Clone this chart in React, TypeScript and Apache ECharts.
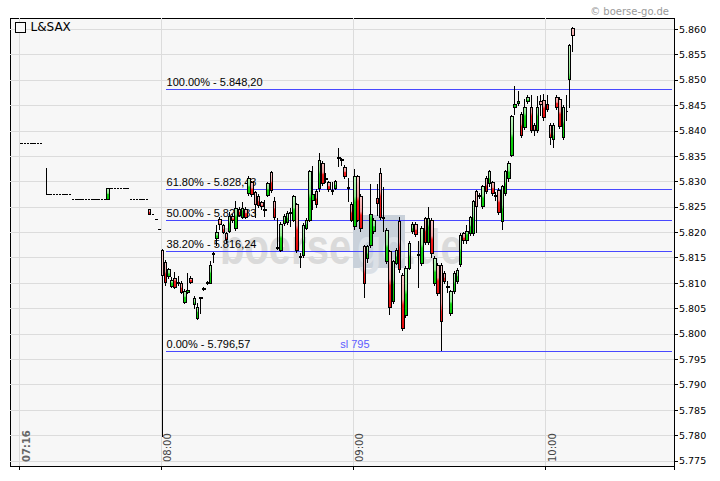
import React, { useEffect, useRef } from 'react';
import * as echarts from 'echarts';

// ---------- data ----------
const firstMinute = 433; // 07:13, left edge of the plot
const lastMinute = 639; // 10:39, right edge of the plot
const xTickLabels = ['07:16', '08:00', '09:00', '10:00'];
const boldTickLabel = '07:16';
const yTicks = [5.775, 5.78, 5.785, 5.79, 5.795, 5.8, 5.805, 5.81, 5.815, 5.82, 5.825, 5.83, 5.835, 5.84, 5.845, 5.85, 5.855, 5.86];
const yMin = 5.774;
const yMax = 5.8622;
const seriesName = 'L&SAX';
const copyright = '\u00a9 boerse-go.de';

// pre-market quotes: [time, open, close, low, high]
const preMarket: [string, number, number, number, number][] = [
  ['07:16', 5.8375, 5.8375, 5.8375, 5.8375],
  ['07:17', 5.8375, 5.8375, 5.8375, 5.8375],
  ['07:18', 5.8375, 5.8375, 5.8375, 5.8375],
  ['07:19', 5.8375, 5.8375, 5.8375, 5.8375],
  ['07:20', 5.8375, 5.8375, 5.8375, 5.8375],
  ['07:21', 5.8375, 5.8375, 5.8375, 5.8375],
  ['07:22', 5.8375, 5.8375, 5.8375, 5.8375],
  ['07:24', 5.8275, 5.8275, 5.8275, 5.8326],
  ['07:25', 5.8275, 5.8275, 5.8275, 5.8275],
  ['07:26', 5.8275, 5.8275, 5.8275, 5.8275],
  ['07:27', 5.8275, 5.8275, 5.8275, 5.8275],
  ['07:28', 5.8275, 5.8275, 5.8275, 5.8275],
  ['07:29', 5.8275, 5.8275, 5.8275, 5.8275],
  ['07:30', 5.8275, 5.8275, 5.8275, 5.8275],
  ['07:31', 5.8275, 5.8275, 5.8275, 5.8275],
  ['07:32', 5.8265, 5.8265, 5.8265, 5.8265],
  ['07:33', 5.8265, 5.8265, 5.8265, 5.8265],
  ['07:34', 5.8265, 5.8265, 5.8265, 5.8265],
  ['07:35', 5.8265, 5.8265, 5.8265, 5.8265],
  ['07:36', 5.8265, 5.8265, 5.8265, 5.8265],
  ['07:37', 5.8265, 5.8265, 5.8265, 5.8265],
  ['07:38', 5.8265, 5.8265, 5.8265, 5.8265],
  ['07:39', 5.8265, 5.8265, 5.8265, 5.8265],
  ['07:40', 5.8265, 5.8265, 5.8265, 5.8265],
  ['07:41', 5.8265, 5.8265, 5.8265, 5.8265],
  ['07:42', 5.8265, 5.8265, 5.8265, 5.8265],
  ['07:43', 5.8265, 5.8287, 5.8265, 5.8287],
  ['07:44', 5.8287, 5.8287, 5.8287, 5.8287],
  ['07:45', 5.8287, 5.8287, 5.8287, 5.8287],
  ['07:46', 5.8287, 5.8287, 5.8287, 5.8287],
  ['07:47', 5.8287, 5.8287, 5.8287, 5.8287],
  ['07:48', 5.8287, 5.8287, 5.8287, 5.8287],
  ['07:49', 5.8287, 5.8287, 5.8287, 5.8287],
  ['07:50', 5.8265, 5.8265, 5.8265, 5.8265],
  ['07:51', 5.8265, 5.8265, 5.8265, 5.8265],
  ['07:52', 5.8265, 5.8265, 5.8265, 5.8265],
  ['07:53', 5.8265, 5.8265, 5.8265, 5.8265],
  ['07:54', 5.8265, 5.8265, 5.8265, 5.8265],
  ['07:55', 5.8265, 5.8265, 5.8265, 5.8265],
  ['07:56', 5.8245, 5.8236, 5.8236, 5.8245],
  ['07:57', 5.8236, 5.8236, 5.8236, 5.8236],
  ['07:58', 5.8226, 5.8226, 5.8226, 5.8226],
  ['07:59', 5.8206, 5.8206, 5.8206, 5.8206],
];

// regular session, one candle per minute from 08:00: [open, close, low, high]
const sessionStart = '08:00';
const session: [number, number, number, number][] = [
  [5.8165, 5.8116, 5.7797, 5.8168],
  [5.8140, 5.8102, 5.8095, 5.8145],
  [5.8114, 5.8126, 5.8108, 5.8130],
  [5.8094, 5.8105, 5.8090, 5.8112],
  [5.8110, 5.8092, 5.8088, 5.8122],
  [5.8101, 5.8099, 5.8095, 5.8115],
  [5.8100, 5.8082, 5.8078, 5.8104],
  [5.8062, 5.8084, 5.8058, 5.8088],
  [5.8082, 5.8085, 5.8078, 5.8120],
  [5.8110, 5.8102, 5.8098, 5.8114],
  [5.8058, 5.8070, 5.8050, 5.8074],
  [5.8030, 5.8053, 5.8027, 5.8060],
  [5.8069, 5.8071, 5.8040, 5.8073],
  [5.8087, 5.8089, 5.8085, 5.8092],
  [5.8100, 5.8102, 5.8097, 5.8104],
  [5.8100, 5.8134, 5.8098, 5.8144],
  [5.8157, 5.8159, 5.8140, 5.8161],
  [5.8187, 5.8200, 5.8173, 5.8215],
  [5.8225, 5.8215, 5.8205, 5.8230],
  [5.8213, 5.8200, 5.8196, 5.8216],
  [5.8197, 5.8185, 5.8180, 5.8200],
  [5.8201, 5.8231, 5.8198, 5.8240],
  [5.8232, 5.8224, 5.8218, 5.8236],
  [5.8208, 5.8247, 5.8203, 5.8262],
  [5.8245, 5.8234, 5.8230, 5.8250],
  [5.8230, 5.8247, 5.8226, 5.8260],
  [5.8245, 5.8230, 5.8226, 5.8250],
  [5.8277, 5.8307, 5.8272, 5.8310],
  [5.8298, 5.8275, 5.8270, 5.8302],
  [5.8278, 5.8255, 5.8228, 5.8282],
  [5.8270, 5.8253, 5.8248, 5.8275],
  [5.8258, 5.8250, 5.8244, 5.8262],
  [5.8245, 5.8243, 5.8230, 5.8263],
  [5.8273, 5.8297, 5.8270, 5.8300],
  [5.8317, 5.8283, 5.8278, 5.8320],
  [5.8260, 5.8229, 5.8224, 5.8270],
  [5.8171, 5.8169, 5.8165, 5.8228],
  [5.8165, 5.8216, 5.8162, 5.8220],
  [5.8217, 5.8232, 5.8212, 5.8236],
  [5.8220, 5.8237, 5.8215, 5.8242],
  [5.8239, 5.8237, 5.8210, 5.8248],
  [5.8224, 5.8270, 5.8220, 5.8273],
  [5.8254, 5.8165, 5.8160, 5.8258],
  [5.8153, 5.8151, 5.8130, 5.8159],
  [5.8155, 5.8214, 5.8150, 5.8218],
  [5.8208, 5.8224, 5.8204, 5.8228],
  [5.8224, 5.8319, 5.8220, 5.8323],
  [5.8262, 5.8275, 5.8244, 5.8330],
  [5.8280, 5.8254, 5.8248, 5.8285],
  [5.8287, 5.8342, 5.8280, 5.8356],
  [5.8336, 5.8297, 5.8292, 5.8340],
  [5.8306, 5.8304, 5.8297, 5.8317],
  [5.8298, 5.8285, 5.8280, 5.8302],
  [5.8283, 5.8281, 5.8273, 5.8300],
  [5.8287, 5.8300, 5.8283, 5.8304],
  [5.8347, 5.8345, 5.8328, 5.8366],
  [5.8344, 5.8342, 5.8330, 5.8346],
  [5.8327, 5.8309, 5.8305, 5.8333],
  [5.8288, 5.8286, 5.8260, 5.8307],
  [5.8255, 5.8224, 5.8220, 5.8260],
  [5.8211, 5.8309, 5.8205, 5.8325],
  [5.8309, 5.8224, 5.8220, 5.8312],
  [5.8270, 5.8207, 5.8200, 5.8275],
  [5.8172, 5.8100, 5.8070, 5.8176],
  [5.8149, 5.8172, 5.8140, 5.8176],
  [5.8175, 5.8235, 5.8170, 5.8296],
  [5.8201, 5.8224, 5.8196, 5.8228],
  [5.8267, 5.8257, 5.8233, 5.8296],
  [5.8316, 5.8230, 5.8224, 5.8326],
  [5.8229, 5.8227, 5.8200, 5.8290],
  [5.8142, 5.8204, 5.8138, 5.8208],
  [5.8162, 5.8053, 5.8037, 5.8166],
  [5.8063, 5.8142, 5.8058, 5.8146],
  [5.8139, 5.8165, 5.8135, 5.8170],
  [5.8221, 5.8126, 5.8120, 5.8231],
  [5.8116, 5.8011, 5.8005, 5.8120],
  [5.8037, 5.8129, 5.8032, 5.8133],
  [5.8129, 5.8179, 5.8125, 5.8183],
  [5.8201, 5.8216, 5.8196, 5.8220],
  [5.8216, 5.8196, 5.8190, 5.8220],
  [5.8156, 5.8154, 5.8090, 5.8183],
  [5.8139, 5.8208, 5.8134, 5.8212],
  [5.8227, 5.8181, 5.8176, 5.8231],
  [5.8181, 5.8227, 5.8176, 5.8250],
  [5.8224, 5.8158, 5.8150, 5.8228],
  [5.8100, 5.8149, 5.8095, 5.8153],
  [5.8135, 5.8080, 5.8075, 5.8140],
  [5.8135, 5.8024, 5.7966, 5.8139],
  [5.8119, 5.8103, 5.8098, 5.8123],
  [5.8094, 5.8092, 5.8080, 5.8105],
  [5.8041, 5.8083, 5.8036, 5.8087],
  [5.8083, 5.8119, 5.8079, 5.8123],
  [5.8103, 5.8125, 5.8099, 5.8129],
  [5.8137, 5.8194, 5.8132, 5.8198],
  [5.8197, 5.8183, 5.8178, 5.8201],
  [5.8183, 5.8202, 5.8178, 5.8215],
  [5.8197, 5.8229, 5.8192, 5.8233],
  [5.8198, 5.8260, 5.8193, 5.8264],
  [5.8280, 5.8250, 5.8198, 5.8284],
  [5.8273, 5.8271, 5.8265, 5.8278],
  [5.8250, 5.8290, 5.8245, 5.8294],
  [5.8306, 5.8280, 5.8275, 5.8310],
  [5.8296, 5.8319, 5.8290, 5.8323],
  [5.8298, 5.8277, 5.8272, 5.8302],
  [5.8272, 5.8270, 5.8262, 5.8280],
  [5.8283, 5.8240, 5.8235, 5.8287],
  [5.8221, 5.8290, 5.8204, 5.8294],
  [5.8277, 5.8319, 5.8272, 5.8323],
  [5.8306, 5.8336, 5.8300, 5.8340],
  [5.8352, 5.8428, 5.8348, 5.8432],
  [5.8446, 5.8452, 5.8431, 5.8488],
  [5.8453, 5.8457, 5.8448, 5.8478],
  [5.8432, 5.8390, 5.8385, 5.8436],
  [5.8407, 5.8446, 5.8402, 5.8462],
  [5.8457, 5.8466, 5.8452, 5.8470],
  [5.8446, 5.8401, 5.8395, 5.8470],
  [5.8411, 5.8401, 5.8390, 5.8415],
  [5.8401, 5.8446, 5.8395, 5.8468],
  [5.8457, 5.8451, 5.8430, 5.8470],
  [5.8460, 5.8426, 5.8420, 5.8472],
  [5.8452, 5.8442, 5.8437, 5.8470],
  [5.8411, 5.8387, 5.8372, 5.8415],
  [5.8382, 5.8411, 5.8366, 5.8415],
  [5.8466, 5.8446, 5.8440, 5.8470],
  [5.8462, 5.8409, 5.8404, 5.8466],
  [5.8387, 5.8446, 5.8382, 5.8450],
  [5.8437, 5.8437, 5.8420, 5.8470],
  [5.8501, 5.8567, 5.8445, 5.8570],
  [5.8602, 5.8587, 5.8556, 5.8605],
];

// Fibonacci retracement
const fibLevels = ['100.00%', '61.80%', '50.00%', '38.20%', '0.00%'];
const fibValues = [5.8482, 5.82843, 5.82233, 5.81624, 5.79657];
const fibTexts = ['5.848,20', '5.828,43', '5.822,33', '5.816,24', '5.796,57'];
const fibStart = '08:01';
const stopText = 'sl 795';
const stopTime = '09:00';

// ---------- helpers ----------
const toLabel = (m: number) =>
  `${String(Math.floor(m / 60)).padStart(2, '0')}:${String(m % 60).padStart(2, '0')}`;
const toMinute = (s: string) => {
  const [h, m] = s.split(':').map(Number);
  return h * 60 + m;
};

const FIB_BLUE = '#4848ff';

export default function App() {
  const ref = useRef<HTMLDivElement>(null);

  useEffect(() => {
    if (!ref.current) return;
    const host = ref.current;
    const chart = echarts.init(host, undefined, { renderer: 'svg' });

    const categories: string[] = [];
    for (let m = firstMinute; m <= lastMinute; m++) categories.push(toLabel(m));
    const lastCategory = categories[categories.length - 1];

    const rows: (string | number)[][] = preMarket.map((r) => [...r]);
    const startMin = toMinute(sessionStart);
    session.forEach((c, i) => rows.push([toLabel(startMin + i), ...c]));

    const showTick = (_i: number, v: string) => xTickLabels.includes(v);

    const upFill = new echarts.graphic.LinearGradient(0, 0, 0, 1, [
      { offset: 0, color: '#ccf8cc' },
      { offset: 0.45, color: '#8eea8e' },
      { offset: 0.55, color: '#14d414' },
      { offset: 1, color: '#00c400' },
    ]);
    const downFill = new echarts.graphic.LinearGradient(0, 0, 0, 1, [
      { offset: 0, color: '#fad0d0' },
      { offset: 0.45, color: '#f29c9c' },
      { offset: 0.55, color: '#f41c1c' },
      { offset: 1, color: '#e00808' },
    ]);

    const wmFont = 'bold 50px "Liberation Sans", Arial, sans-serif';

    const fibSeries = fibLevels.map((lvl, i) => ({
      name: `fib ${lvl}`,
      type: 'line',
      z: 1,
      silent: true,
      symbol: 'circle',
      symbolSize: 0,
      showSymbol: true,
      lineStyle: { color: FIB_BLUE, width: 1, type: 'solid' },
      itemStyle: { color: FIB_BLUE },
      emphasis: { disabled: true },
      label: { show: false },
      data: [
        {
          value: [fibStart, fibValues[i]],
          label: {
            show: true,
            position: [1, -13],
            align: 'left',
            verticalAlign: 'top',
            formatter: `${lvl} - ${fibTexts[i]}`,
            color: '#000',
            fontSize: 11,
            fontFamily: 'Liberation Sans',
          },
        },
        { value: [lastCategory, fibValues[i]] },
      ],
    }));

    const option: any = {
      animation: false,
      backgroundColor: '#ffffff',
      title: {
        text: copyright,
        right: 46,
        top: 1,
        textStyle: { fontSize: 10, fontWeight: 'normal', color: '#9a9a9a', fontFamily: 'DejaVu Sans' },
      },
      legend: {
        left: 15,
        top: 21,
        padding: 0,
        itemWidth: 10,
        itemHeight: 10,
        selectedMode: false,
        textStyle: { fontSize: 12, color: '#000', fontFamily: 'DejaVu Sans' },
        data: [
          { name: seriesName, icon: 'rect', itemStyle: { color: '#f7f7f7', borderColor: '#000', borderWidth: 1 } },
        ],
      },
      grid: {
        left: 10,
        right: 46,
        top: 18,
        bottom: 15,
        show: true,
        backgroundColor: '#f7f7f7',
        borderColor: '#000',
        borderWidth: 1,
      },
      graphic: [
        {
          type: 'group',
          silent: true,
          z: 0.5,
          children: [
            { type: 'rect', shape: { x: 353, y: 215, width: 52, height: 53 }, style: { fill: '#c9d1da' }, z: 0.5 },
            {
              type: 'text', x: 220, y: 247, scaleX: 0.8, z: 0.5,
              style: { text: 'boerse', fill: '#dadada', font: wmFont, verticalAlign: 'middle' },
            },
            {
              type: 'text', x: 357, y: 247, scaleX: 0.8, z: 0.5,
              style: { text: 'go', fill: '#dbe0e6', font: wmFont, verticalAlign: 'middle' },
            },
            {
              type: 'text', x: 405, y: 247, scaleX: 0.8, z: 0.5,
              style: { text: '.de', fill: '#dadada', font: wmFont, verticalAlign: 'middle' },
            },
          ],
        },
      ],
      xAxis: {
        type: 'category',
        data: categories,
        boundaryGap: true,
        axisLine: { lineStyle: { color: '#000', width: 1 } },
        axisTick: { show: true, interval: showTick, length: 4, lineStyle: { color: '#000' } },
        splitLine: { show: true, interval: showTick, lineStyle: { color: '#dcdcdc', width: 1 } },
        axisLabel: {
          show: true,
          interval: showTick,
          inside: true,
          rotate: 90,
          margin: 4,
          padding: [10, 0, 0, 0],
          fontSize: 10,
          fontFamily: 'DejaVu Sans',
          color: '#444',
          formatter: (v: string) => (v === boldTickLabel ? `{b|${v}}` : v),
          rich: { b: { fontWeight: 'bold', color: '#666', fontSize: 10, fontFamily: 'DejaVu Sans' } },
        },
      },
      yAxis: {
        type: 'value',
        position: 'right',
        min: yMin,
        max: yMax,
        scale: true,
        axisLine: { show: true, lineStyle: { color: '#000' } },
        axisTick: { show: true, customValues: yTicks, length: 4, lineStyle: { color: '#000' } },
        splitLine: { show: true, customValues: yTicks, lineStyle: { color: '#dcdcdc', width: 1 } },
        axisLabel: {
          customValues: yTicks,
          margin: 5,
          fontSize: 9.5,
          fontFamily: 'DejaVu Sans',
          color: '#000',
          formatter: (v: number) => v.toFixed(3),
        },
      },
      series: [
        ...fibSeries,
        {
          name: seriesName,
          type: 'candlestick',
          z: 2,
          data: rows,
          encode: { x: 0, y: [1, 2, 3, 4] },
          barWidth: 3,
          itemStyle: {
            color: upFill,
            color0: downFill,
            borderColor: '#000',
            borderColor0: '#000',
            borderColorDoji: '#000',
            borderWidth: 1,
          },
          markPoint: {
            silent: true,
            data: [
              {
                coord: [stopTime, fibValues[fibValues.length - 1]],
                symbol: 'rect',
                symbolSize: 1,
                itemStyle: { color: 'rgba(0,0,0,0)' },
                label: {
                  show: true,
                  position: 'top',
                  distance: 1,
                  formatter: stopText,
                  color: '#5c5cff',
                  fontSize: 11,
                  fontFamily: 'Liberation Sans',
                },
              },
            ],
          },
        },
      ],
    };

    const crisp = () => {
      host.querySelectorAll('path').forEach((el) => el.setAttribute('shape-rendering', 'crispEdges'));
    };
    chart.on('finished', crisp);
    chart.setOption(option);
    crisp();
    return () => chart.dispose();
  }, []);

  return <div ref={ref} style={{ position: 'fixed', left: 0, top: 0, width: 720, height: 481 }} />;
}
